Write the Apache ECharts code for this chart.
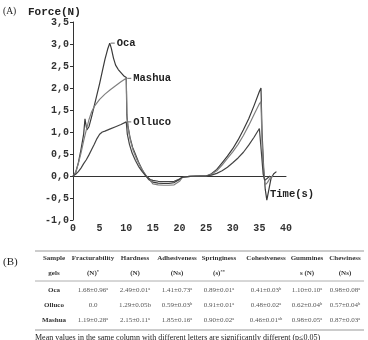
<!DOCTYPE html>
<html><head><meta charset="utf-8">
<script src="https://cdn.jsdelivr.net/npm/echarts@6/dist/echarts.min.js"></script>
<style>html,body{margin:0;padding:0;background:#fff}#c{width:368px;height:340px}</style>
</head><body><div id="c"></div>
<script>
// ---- chart data (time in s, force in N) ----
const ocaTime  = [0,0.5,1,1.5,2,2.25,2.6,3,3.5,4,4.5,5,5.5,6,6.5,6.9,7.2,7.6,8,8.5,9,9.5,10,10.1,10.3,10.7,11.2,11.7,12.3,13,13.6,14.2,15,16,17,18,19,20,20.5,21,22,23,24,25,26,27,28,29,30,31,32,33,34,35,35.3,35.5,35.8,36.1,36.4,36.8,37.2,37.7,38.2];
const ocaForce = [0,0.08,0.3,0.6,0.95,1.3,1.05,1.12,1.35,1.6,1.85,2.1,2.38,2.65,2.88,3.02,2.9,2.68,2.52,2.42,2.35,2.28,2.24,1.4,1.15,0.88,0.65,0.5,0.32,0.14,0.02,-0.08,-0.14,-0.16,-0.17,-0.17,-0.15,-0.08,-0.03,-0.02,-0.01,-0.01,0,0,0.05,0.15,0.3,0.45,0.62,0.82,1.05,1.3,1.6,1.92,2.0,1.0,0.2,-0.3,-0.55,-0.3,-0.05,0.05,0.1];
const mashuaTime  = [0,0.5,1,1.5,2,2.5,3,3.5,4,5,6,7,8,9,10,10.15,10.4,10.8,11.3,11.9,12.5,13.2,13.8,14.5,15,16,17,18,19,20,20.5,21,22,23,24,25,26,27,28,29,30,31,32,33,34,35,35.3,35.5,35.8,36.1,36.5,37,37.5];
const mashuaForce = [0,0.08,0.28,0.52,0.8,1.05,1.28,1.46,1.58,1.74,1.86,1.96,2.05,2.14,2.22,1.3,1.05,0.8,0.58,0.4,0.25,0.1,0,-0.1,-0.18,-0.2,-0.21,-0.21,-0.2,-0.12,-0.04,-0.02,-0.01,0,0,0,0.04,0.12,0.25,0.4,0.55,0.72,0.92,1.15,1.4,1.64,1.69,0.8,0.1,-0.2,-0.15,-0.05,0];
const ollucoTime  = [0,0.5,1,1.5,2,2.5,3,3.5,4,4.5,5,5.5,6,7,8,9,10,10.2,10.6,11.1,11.7,12.3,13,13.7,14.5,15,16,17,18,19,20,20.5,21,22,23,24,25,26,27,28,29,30,31,32,33,34,35,35.2,35.4,35.7,36,36.5,37];
const ollucoForce = [0,0.04,0.1,0.18,0.28,0.37,0.48,0.6,0.72,0.85,0.95,1.0,1.02,1.07,1.12,1.17,1.23,0.95,0.72,0.52,0.36,0.22,0.1,0,-0.08,-0.1,-0.12,-0.13,-0.13,-0.12,-0.07,-0.03,-0.02,-0.01,0,0,0,0.02,0.06,0.12,0.2,0.3,0.41,0.54,0.7,0.88,1.08,1.11,0.5,0.05,-0.1,-0.05,0];
const seriesNames = ['Oca','Mashua','Olluco'];
const xMin = 0, xMax = 40, xStep = 5;
const yMin = -1.0, yMax = 3.5, yStep = 0.5;

// ---- table data ----
const tableHead1 = ['Sample','Fracturability','Hardness','Adhesiveness','Springiness','Cohesiveness','Gummines','Chewiness'];
const tableHead2 = ['gels','(N)','(N)','(Ns)','(s)','','s (N)','(Ns)'];
const tableHead2Sup = ['','*','','','**','','',''];
const tableSamples = ['Oca','Olluco','Mashua'];
const tableValues = [
  ['1.68±0.96','2.49±0.01','1.41±0.73','0.89±0.01','0.41±0.03','1.10±0.10','0.98±0.08'],
  ['0.0','1.29±0.05b','0.59±0.03','0.91±0.01','0.48±0.02','0.62±0.04','0.57±0.04'],
  ['1.19±0.28','2.15±0.11','1.85±0.16','0.90±0.02','0.46±0.01','0.98±0.05','0.87±0.03']
];
const tableLetters = [
  ['a','a','a','a','b','a','a'],
  ['','','b','a','a','b','b'],
  ['a','a','a','a','ab','a','a']
];
const footnote = 'Mean values in the same column with different letters are significantly different (p\u22640.05)';

const fmt = v => (Math.round(v*10)/10).toFixed(1).replace('.', ',');
const pair = (t, f) => t.map((x, i) => [x, f[i]]);
const peakIdx = arr => arr.indexOf(Math.max(...arr));

const mono = '"Liberation Mono", "DejaVu Sans Mono", monospace';
const serif = '"Liberation Serif", "DejaVu Serif", serif';

function mkSeries(name, t, f, color, labelIdx) {
  return {
    type: 'line', name, data: pair(t, f), showSymbol: false, smooth: false,
    lineStyle: { color, width: 1.2 }, silent: true, animation: false,
    markPoint: {
      symbol: 'rect', symbolSize: [4, 1], symbolOffset: [3, 0],
      itemStyle: { color: '#666' }, animation: false,
      label: { show: true, position: 'right', distance: 2, formatter: name,
        fontFamily: mono, fontWeight: 'bold', fontSize: 10.5, color: '#222' },
      data: [{ coord: [t[labelIdx], f[labelIdx]] }]
    }
  };
}

// ---- table graphics ----
const colX = [54, 93, 135, 177, 219, 266, 307, 345];
const rowY = [290, 305, 320];
const g = [];
function txt(x, y, text, opt) {
  g.push({ type: 'text', x, y, silent: true, style: Object.assign({
    text, fill: '#333', font: '7px ' + serif, textAlign: 'center', textVerticalAlign: 'middle'
  }, opt || {}) });
}
const supRich = {
  v: { fontFamily: serif, fontSize: 7, fill: '#555', color: '#555' },
  s: { fontFamily: serif, fontSize: 4.5, fill: '#555', color: '#555', verticalAlign: 'top', padding: [0,0,3,0] },
  hb: { fontFamily: serif, fontSize: 7, fontWeight: 'bold', fill: '#333', color: '#333' },
  hs: { fontFamily: serif, fontSize: 4.5, fontWeight: 'bold', fill: '#333', color: '#333', verticalAlign: 'top', padding: [0,0,3,0] }
};
tableHead1.forEach((h, i) => txt(colX[i], 258, h, { font: 'bold 7px ' + serif }));
tableHead2.forEach((h, i) => {
  if (!h) return;
  const s = tableHead2Sup[i];
  txt(colX[i], 273, '{hb|' + h + '}' + (s ? '{hs|' + s + '}' : ''), { rich: supRich });
});
tableSamples.forEach((s, r) => {
  txt(colX[0], rowY[r], s, { font: 'bold 7px ' + serif });
  tableValues[r].forEach((v, c) => {
    const l = tableLetters[r][c];
    txt(colX[c + 1], rowY[r], '{v|' + v + '}' + (l ? '{s|' + l + '}' : ''), { rich: supRich });
  });
});
[[251, 1.2], [281, 0.8], [330, 1.2]].forEach(([y, w]) =>
  g.push({ type: 'line', silent: true, shape: { x1: 35, y1: y, x2: 364, y2: y }, style: { stroke: '#999', lineWidth: w } }));
txt(35, 338, footnote, { font: '8px ' + serif, textAlign: 'left', fill: '#222' });
txt(3, 262, '(B)', { font: '11px ' + serif, textAlign: 'left', fill: '#222' });
txt(3, 11, '(A)', { font: '9.5px ' + serif, textAlign: 'left', fill: '#222' });
txt(28, 12, 'Force(N)', { font: 'bold 11px ' + mono, textAlign: 'left', fill: '#222' });
txt(270, 194, 'Time(s)', { font: 'bold 10.5px ' + mono, textAlign: 'left', fill: '#222' });

const chart = echarts.init(document.getElementById('c'), null, { renderer: 'canvas' });
chart.setOption({
  animation: false,
  backgroundColor: '#fff',
  grid: { left: 73, right: 82, top: 22, bottom: 120, containLabel: false },
  xAxis: {
    type: 'value', min: xMin, max: xMax, interval: xStep,
    axisLine: { onZero: true, lineStyle: { color: '#333', width: 1 } },
    axisTick: { show: false },
    axisLabel: { margin: 3, fontFamily: mono, fontWeight: 'bold', fontSize: 10, color: '#333' },
    splitLine: { show: false }
  },
  yAxis: {
    type: 'value', min: yMin, max: yMax, interval: yStep,
    axisLine: { show: true, onZero: false, lineStyle: { color: '#333', width: 1 } },
    axisTick: { show: true, length: 3, lineStyle: { color: '#333' } },
    axisLabel: { margin: 4, fontFamily: mono, fontWeight: 'bold', fontSize: 10, color: '#333', formatter: fmt },
    splitLine: { show: false }
  },
  series: [
    mkSeries(seriesNames[0], ocaTime, ocaForce, '#3a3a3a', peakIdx(ocaForce)),
    mkSeries(seriesNames[1], mashuaTime, mashuaForce, '#808080', mashuaTime.indexOf(10)),
    mkSeries(seriesNames[2], ollucoTime, ollucoForce, '#444', ollucoTime.indexOf(10))
  ],
  graphic: { elements: g }
});
</script></body></html>
